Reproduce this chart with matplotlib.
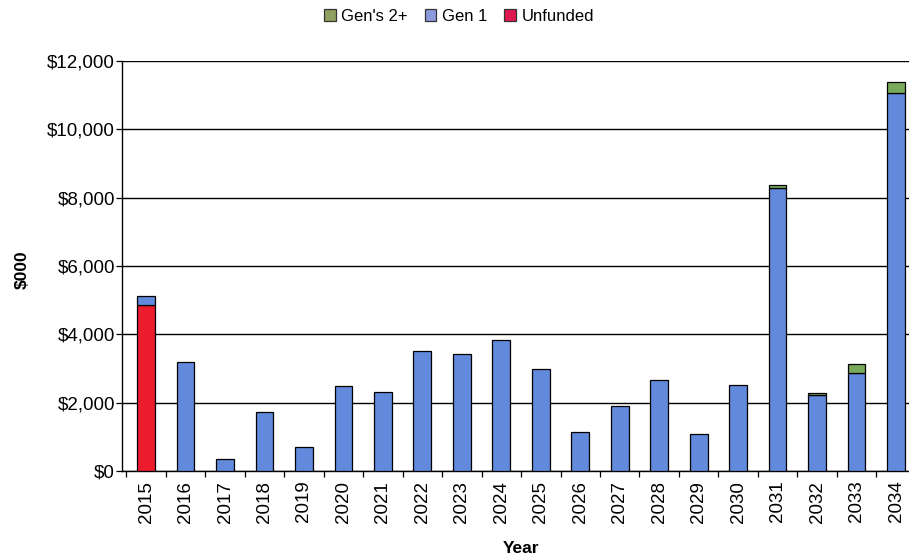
import matplotlib.pyplot as plt
import numpy as np
from matplotlib.ticker import FuncFormatter, FixedLocator

plt.rcParams['font.family'] = ['Liberation Sans', 'DejaVu Sans']

years = [str(y) for y in range(2015, 2035)]
unfunded = [4850, 0, 0, 0, 0, 0, 0, 0, 0, 0, 0, 0, 0, 0, 0, 0, 0, 0, 0, 0]
gen1 = [270, 3200, 350, 1730, 700, 2490, 2310, 3500, 3430, 3830,
        2980, 1140, 1900, 2660, 1080, 2520, 8280, 2230, 2870, 11060]
gen2 = [0, 0, 0, 0, 0, 0, 0, 0, 0, 0,
        0, 0, 0, 0, 0, 0, 90, 50, 260, 320]

c_red = '#ec1b2e'
c_blue = '#6189dc'
c_green = '#79aa5c'

fig = plt.figure(figsize=(9.09, 5.57), dpi=100)
ax = fig.add_axes([0.1342, 0.1544, 0.878, 0.736])

x = np.arange(len(years))
w = 0.45
un = np.array(unfunded)
g1 = np.array(gen1)
g2 = np.array(gen2)

ax.bar(x, un, w, color=c_red, edgecolor='black', linewidth=0.9, zorder=3)
ax.bar(x, g1, w, bottom=un, color=c_blue, edgecolor='black', linewidth=0.9, zorder=3)
mask = g2 > 0
ax.bar(x[mask], g2[mask], w, bottom=(un + g1)[mask], color=c_green,
       edgecolor='black', linewidth=0.9, zorder=3)

ax.set_ylim(0, 12000)
ax.set_xlim(-0.61, 19.61)
ax.set_yticks(np.arange(0, 12001, 2000))
ax.yaxis.set_major_formatter(FuncFormatter(lambda v, p: f'${v:,.0f}'))
ax.grid(axis='y', color='black', linewidth=1.0, zorder=0)

ax.set_xticks(x)
ax.set_xticklabels(years, rotation=90, fontsize=13.5)
ax.xaxis.set_minor_locator(FixedLocator(np.arange(-0.5, 20, 1.0)))
ax.tick_params(axis='x', which='major', length=0, pad=7)
ax.tick_params(axis='x', which='minor', length=4, width=0.9, direction='out')
ax.tick_params(axis='y', length=4, width=0.9, labelsize=13.5, pad=1)

for s in ['top', 'right']:
    ax.spines[s].set_visible(False)
ax.spines['left'].set_linewidth(1.0)
ax.spines['bottom'].set_linewidth(1.0)

ax.set_xlabel('Year', fontsize=12.5, fontweight='bold', va='center')
ax.xaxis.set_label_coords(0.5, -0.188)
ax.set_ylabel('$000', fontsize=12.5, fontweight='bold', va='center')
ax.yaxis.set_label_coords(-0.125, 0.49)

# legend at the top of the figure
handles = [plt.Rectangle((0, 0), 1, 1, facecolor=c, edgecolor='#333333', linewidth=0.9)
           for c in ['#8fa060', '#8e9ae0', '#e01850']]
fig.legend(handles, ["Gen's 2+", 'Gen 1', 'Unfunded'], loc='center',
           bbox_to_anchor=(0.505, 0.971), ncol=3, frameon=False, fontsize=12,
           handlelength=0.7, handleheight=0.7, handletextpad=0.35, columnspacing=1.0)

fig.savefig('out.png', dpi=100)
